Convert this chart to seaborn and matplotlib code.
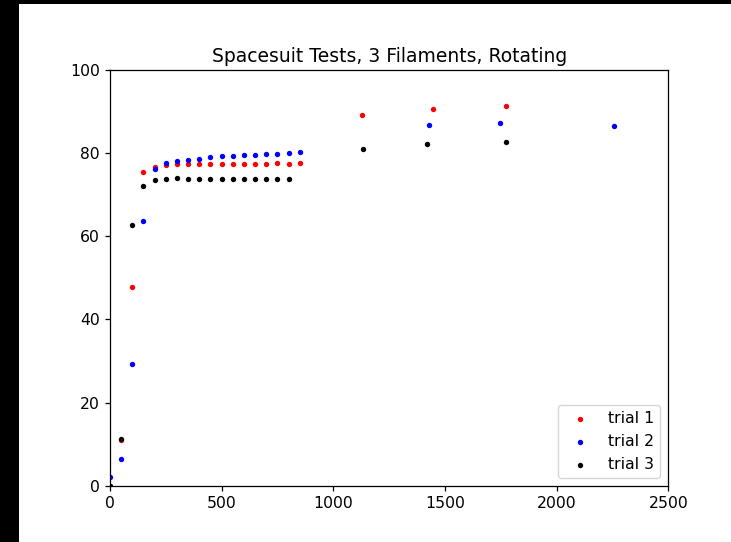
import matplotlib
matplotlib.use("Agg")
import matplotlib.pyplot as plt
from matplotlib.patches import Rectangle
import seaborn as sns
import pandas as pd

# values
trial1_x = [0, 50, 100, 150, 200, 250, 300, 350, 400, 450, 500, 550, 600, 650, 700, 750, 800, 850,
            1130, 1445, 1775]
trial1_y = [0, 11.0, 47.7, 75.4, 76.7, 77.1, 77.3, 77.3, 77.3, 77.3, 77.3, 77.3, 77.3, 77.3, 77.3, 77.6, 77.3, 77.6,
            89.2, 90.6, 91.4]

trial2_x = [0, 50, 100, 150, 200, 250, 300, 350, 400, 450, 500, 550, 600, 650, 700, 750, 800, 850,
            1430, 1745, 2255]
trial2_y = [2.0, 6.5, 29.3, 63.7, 76.2, 77.6, 78.1, 78.4, 78.7, 79.0, 79.2, 79.3, 79.6, 79.6, 79.8, 79.8, 80.0, 80.3,
            86.8, 87.3, 86.5]

trial3_x = [0, 50, 100, 150, 200, 250, 300, 350, 400, 450, 500, 550, 600, 650, 700, 750, 800,
            1132, 1420, 1773]
trial3_y = [0, 11.2, 62.6, 72.1, 73.5, 73.8, 74.1, 73.8, 73.8, 73.8, 73.8, 73.8, 73.8, 73.8, 73.8, 73.8, 73.8,
            81.1, 82.2, 82.7]

labels = ["trial 1", "trial 2", "trial 3"]
colors = ["red", "blue", "black"]

# screenshot was scaled ~1.125 from a default figure
sc = 1.125
plt.rcParams["font.size"] = 10 * sc
plt.rcParams["axes.titlesize"] = 12 * sc
plt.rcParams["axes.linewidth"] = 0.8 * sc
plt.rcParams["xtick.major.size"] = 3.5 * sc
plt.rcParams["ytick.major.size"] = 3.5 * sc
plt.rcParams["xtick.major.width"] = 0.8 * sc
plt.rcParams["ytick.major.width"] = 0.8 * sc

fig = plt.figure(figsize=(7.31, 5.42), dpi=100, facecolor="black")
fig.patches.append(Rectangle((19 / 731, 0), 1, 538 / 542, transform=fig.transFigure,
                             facecolor="white", edgecolor="none", zorder=-1))
ax = fig.add_axes([110 / 731, 56.3 / 542, 558.3 / 731, 415.7 / 542])

for xs, ys, lab, col in zip([trial1_x, trial2_x, trial3_x], [trial1_y, trial2_y, trial3_y], labels, colors):
    df = pd.DataFrame({"x": xs, "y": ys})
    sns.scatterplot(data=df, x="x", y="y", color=col, label=lab, s=15, linewidth=0, ax=ax)

ax.set_xlim(0, 2500)
ax.set_ylim(0, 100)
ax.set_xticks([0, 500, 1000, 1500, 2000, 2500])
ax.set_yticks([0, 20, 40, 60, 80, 100])
ax.set_xlabel("")
ax.set_ylabel("")
ax.set_title("Spacesuit Tests, 3 Filaments, Rotating")
ax.legend(loc="lower right")

fig.savefig("out.png", dpi=100, facecolor=fig.get_facecolor())
